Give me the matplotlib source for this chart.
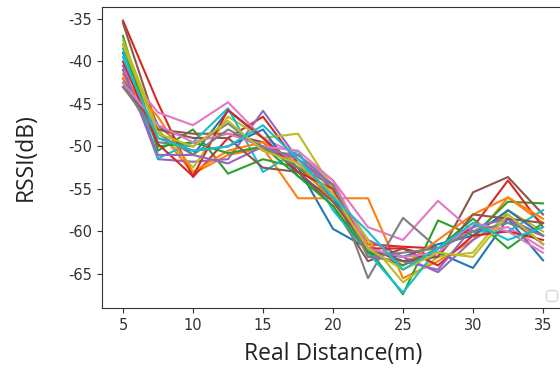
import warnings
import matplotlib
matplotlib.use('Agg')
import matplotlib.pyplot as plt

plt.rcParams['axes.unicode_minus'] = False

# distances (m) where RSSI was measured
distance = [5, 7.5, 10, 12.5, 15, 17.5, 20, 22.5, 25, 27.5, 30, 32.5, 35]

# one RSSI run per row (dB)
rssi_runs = [
    [-39.0, -47.5, -51.0, -45.8, -49.0, -52.5, -59.7, -62.0, -63.5, -62.5, -64.3, -58.5, -63.4],
    [-41.5, -48.0, -53.2, -51.0, -50.2, -56.1, -56.1, -56.1, -65.5, -63.5, -61.0, -56.0, -59.0],
    [-37.0, -50.5, -48.0, -53.2, -51.5, -52.5, -56.0, -62.0, -67.4, -58.7, -60.5, -56.5, -56.7],
    [-35.2, -44.9, -53.6, -49.0, -46.5, -52.0, -55.5, -61.5, -61.8, -62.0, -59.5, -54.0, -59.5],
    [-40.5, -51.5, -51.8, -51.5, -45.8, -51.5, -55.0, -61.0, -63.0, -64.8, -61.0, -58.5, -61.5],
    [-35.5, -48.0, -48.5, -48.5, -49.5, -53.0, -57.0, -63.5, -62.0, -63.0, -55.4, -53.6, -58.0],
    [-41.0, -46.0, -47.5, -44.8, -49.0, -51.0, -54.0, -59.5, -61.0, -56.4, -60.0, -59.5, -62.0],
    [-42.5, -49.5, -50.0, -47.3, -50.5, -51.0, -54.5, -65.5, -58.4, -62.0, -60.0, -58.0, -61.5],
    [-37.5, -48.0, -52.5, -46.5, -49.0, -48.5, -55.0, -61.0, -66.0, -63.0, -62.5, -57.5, -60.0],
    [-38.5, -51.4, -49.5, -45.5, -53.0, -50.5, -57.5, -62.5, -67.2, -62.0, -60.0, -60.0, -57.5],
    [-42.0, -49.0, -50.5, -50.0, -48.0, -53.5, -56.0, -62.5, -63.0, -61.5, -60.5, -57.5, -60.5],
    [-42.0, -46.5, -53.0, -50.5, -49.5, -52.0, -56.5, -61.5, -64.0, -61.0, -58.0, -56.0, -58.5],
    [-38.0, -50.0, -49.5, -50.8, -50.0, -53.5, -57.0, -62.5, -64.0, -62.0, -58.5, -62.0, -59.0],
    [-40.0, -49.7, -53.5, -45.7, -49.0, -53.0, -55.0, -62.0, -62.0, -64.0, -60.5, -60.0, -61.0],
    [-41.0, -51.0, -51.0, -52.0, -50.0, -51.5, -54.5, -63.0, -63.5, -64.5, -59.5, -58.5, -60.5],
    [-43.0, -48.0, -49.0, -49.0, -52.5, -53.0, -56.5, -62.0, -63.5, -63.0, -58.0, -58.5, -59.0],
    [-42.5, -47.5, -49.5, -48.5, -50.0, -50.5, -54.0, -62.0, -63.0, -62.5, -59.0, -60.0, -62.5],
    [-43.0, -48.5, -51.0, -48.0, -50.0, -52.5, -54.5, -63.0, -62.5, -62.0, -60.0, -59.0, -60.5],
    [-38.0, -48.5, -50.0, -47.0, -50.5, -52.0, -55.5, -62.0, -64.5, -62.5, -63.0, -58.0, -61.5],
    [-39.5, -49.0, -50.5, -50.0, -47.5, -51.5, -56.0, -60.0, -64.5, -62.0, -59.0, -61.0, -59.5],
]

fig = plt.figure(figsize=(5.6, 3.69), dpi=100)
# axes run a bit past the right edge, like the cropped original
ax = fig.add_axes([102 / 560, 61 / 369, 462 / 560, 301 / 369])

for run in rssi_runs:
    ax.plot(distance, run, linewidth=1.5)

ax.tick_params(labelsize=10.5, colors='#333333')
for s in ax.spines.values():
    s.set_color('#333333')

ax.set_xlabel('Real Distance(m)', fontsize=16.5, family='Open Sans', color='#222222', labelpad=7)
ax.set_ylabel('RSSI(dB)', fontsize=16.5, family='Open Sans', color='#222222', labelpad=22)

# empty legend box (no labelled lines)
with warnings.catch_warnings():
    warnings.simplefilter('ignore')
    ax.legend(loc='lower right')

fig.savefig('out.png', dpi=100)
